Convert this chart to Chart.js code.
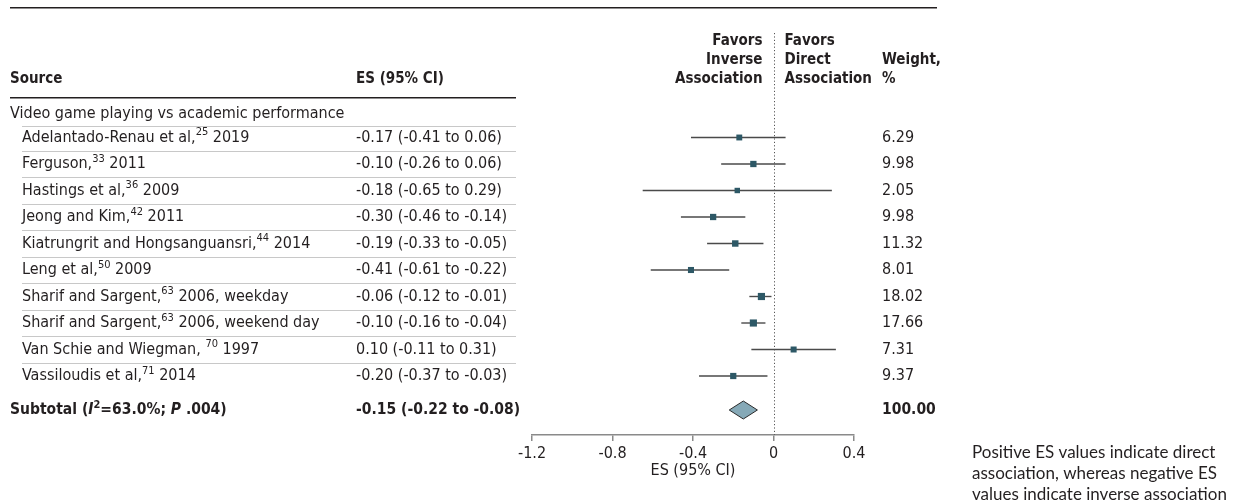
<!DOCTYPE html>
<html>
<head>
<meta charset="utf-8">
<script src="https://cdn.jsdelivr.net/npm/chart.js@4.4.1/dist/chart.umd.min.js"></script>
<style>
  html, body { margin: 0; padding: 0; background: #fff; }
  #wrap { width: 1237px; height: 501px; position: relative; }
</style>
</head>
<body>
<div id="wrap"><canvas id="forest" width="1237" height="501"></canvas></div>
<script>
// study rows
const studyNames = [
    'Adelantado-Renau et al,', 'Ferguson,', 'Hastings et al,', 'Jeong and Kim,',
    'Kiatrungrit and Hongsanguansri,', 'Leng et al,', 'Sharif and Sargent,',
    'Sharif and Sargent,', 'Van Schie and Wiegman, ', 'Vassiloudis et al,'
];
const studyRefs = ['25', '33', '36', '42', '44', '50', '63', '63', '70', '71'];
const studyTails = [' 2019', ' 2011', ' 2009', ' 2011', ' 2014', ' 2009',
    ' 2006, weekday', ' 2006, weekend day', ' 1997', ' 2014'];
const esValues = [-0.17, -0.10, -0.18, -0.30, -0.19, -0.41, -0.06, -0.10, 0.10, -0.20];
const ciLow = [-0.41, -0.26, -0.65, -0.46, -0.33, -0.61, -0.12, -0.16, -0.11, -0.37];
const ciHigh = [0.06, 0.06, 0.29, -0.14, -0.05, -0.22, -0.01, -0.04, 0.31, -0.03];
const weights = [6.29, 9.98, 2.05, 9.98, 11.32, 8.01, 18.02, 17.66, 7.31, 9.37];

// pooled estimate
const subtotalEs = -0.15;
const subtotalLow = -0.22;
const subtotalHigh = -0.08;
const subtotalWeight = 100.00;

// axis
const xTicks = [-1.2, -0.8, -0.4, 0, 0.4];
const xTickLabels = ['-1.2', '-0.8', '-0.4', '0', '0.4'];

const FONT = '"Liberation Sans Narrow", "DejaVu Sans Condensed", sans-serif';
const NOTE_FONT = 'Lato, "Noto Sans", sans-serif';
const TEXT = '#231f20';
const SIZE = 16;
const BOLD_SIZE = 15;
const SUBTOTAL_ROW = 10.283;
const GROUP_ROW = -0.887;

const fmt = v => v.toFixed(2);

// draw a run of text pieces, some superscript / italic
const drawRich = (ctx, parts, x, y, size, bold) => {
    let cx = x;
    parts.forEach(p => {
        const fs = p.sup ? Math.round(size * 0.7) : size;
        ctx.font = `${p.italic ? 'italic ' : ''}${bold ? 'bold ' : ''}${fs}px ${FONT}`;
        ctx.fillText(p.t, cx, p.sup ? y - size * 0.33 : y);
        cx += ctx.measureText(p.t).width;
    });
};

const forestPlugin = {
    id: 'forestTable',
    beforeDatasetsDraw(chart) {
        const { ctx, scales: { x, y }, chartArea } = chart;
        ctx.save();
        // line of no effect
        const zx = Math.round(x.getPixelForValue(0)) + 0.5;
        ctx.strokeStyle = '#555';
        ctx.lineWidth = 1;
        ctx.setLineDash([1.2, 2.2]);
        ctx.beginPath();
        ctx.moveTo(zx, chartArea.top);
        ctx.lineTo(zx, chartArea.bottom);
        ctx.stroke();
        ctx.setLineDash([]);

        // confidence intervals
        ctx.strokeStyle = '#4a4a4a';
        ctx.lineWidth = 1.4;
        esValues.forEach((v, i) => {
            const py = y.getPixelForValue(i);
            ctx.beginPath();
            ctx.moveTo(x.getPixelForValue(ciLow[i]), py);
            ctx.lineTo(x.getPixelForValue(ciHigh[i]), py);
            ctx.stroke();
        });

        // pooled diamond
        const dy = y.getPixelForValue(SUBTOTAL_ROW);
        ctx.beginPath();
        ctx.moveTo(x.getPixelForValue(subtotalLow), dy);
        ctx.lineTo(x.getPixelForValue(subtotalEs), dy - 9);
        ctx.lineTo(x.getPixelForValue(subtotalHigh), dy);
        ctx.lineTo(x.getPixelForValue(subtotalEs), dy + 9);
        ctx.closePath();
        ctx.fillStyle = '#86a9b7';
        ctx.fill();
        ctx.strokeStyle = '#2b2b2b';
        ctx.lineWidth = 1;
        ctx.stroke();
        ctx.restore();
    },
    afterDraw(chart) {
        const { ctx, scales: { x, y } } = chart;
        const zeroX = x.getPixelForValue(0);
        ctx.save();
        ctx.textBaseline = 'middle';

        // top rule
        ctx.fillStyle = TEXT;
        ctx.fillRect(10, 7, 927, 1.5);

        // column headers
        ctx.font = `bold ${BOLD_SIZE}px ${FONT}`;
        ctx.textAlign = 'right';
        ['Favors', 'Inverse', 'Association'].forEach((t, k) => ctx.fillText(t, zeroX - 11, 41 + k * 19));
        ctx.textAlign = 'left';
        ['Favors', 'Direct', 'Association'].forEach((t, k) => ctx.fillText(t, zeroX + 11, 41 + k * 19));
        ctx.fillText('Weight,', 882, 60);
        ctx.fillText('%', 882, 79);
        ctx.fillText('Source', 10, 79);
        ctx.fillText('ES (95% CI)', 356, 79);
        ctx.fillRect(10, 97, 506, 1.5);

        // group label
        ctx.font = `${SIZE}px ${FONT}`;
        ctx.fillText('Video game playing vs academic performance', 10, y.getPixelForValue(GROUP_ROW));

        // row separators
        ctx.fillStyle = '#c8c8c8';
        for (let i = 0; i < studyNames.length; i++) {
            const prev = i === 0 ? GROUP_ROW : i - 1;
            const sy = Math.round((y.getPixelForValue(i) + y.getPixelForValue(prev)) / 2);
            ctx.fillRect(22, sy, 494, 1);
        }

        // study rows
        ctx.fillStyle = TEXT;
        studyNames.forEach((name, i) => {
            const py = y.getPixelForValue(i);
            drawRich(ctx, [{ t: name }, { t: studyRefs[i], sup: true }, { t: studyTails[i] }], 22, py, SIZE, false);
            ctx.font = `${SIZE}px ${FONT}`;
            ctx.fillText(`${fmt(esValues[i])} (${fmt(ciLow[i])} to ${fmt(ciHigh[i])})`, 356, py);
            ctx.fillText(fmt(weights[i]), 882, py);
        });

        // subtotal row
        const sy = y.getPixelForValue(SUBTOTAL_ROW);
        drawRich(ctx, [
            { t: 'Subtotal (' }, { t: 'I', italic: true }, { t: '2', sup: true },
            { t: '=63.0%; ' }, { t: 'P', italic: true }, { t: ' .004)' }
        ], 10, sy, 15.5, true);
        ctx.font = `bold 15.5px ${FONT}`;
        ctx.fillText(`${fmt(subtotalEs)} (${fmt(subtotalLow)} to ${fmt(subtotalHigh)})`, 356, sy);
        ctx.fillText(subtotalWeight.toFixed(2), 882, sy);

        // note
        ctx.font = `17px ${NOTE_FONT}`;
        ['Positive ES values indicate direct', 'association, whereas negative ES', 'values indicate inverse association']
            .forEach((t, k) => ctx.fillText(t, 972, 453 + k * 21));
        ctx.restore();
    }
};

new Chart(document.getElementById('forest'), {
    type: 'scatter',
    data: {
        datasets: [{
            data: esValues.map((v, i) => ({ x: v, y: i })),
            pointStyle: 'rect',
            pointRadius: weights.map(w => (5.2 + w * 0.11) / 1.414),
            pointBackgroundColor: '#2d5866',
            pointBorderColor: '#2d5866',
            pointBorderWidth: 0
        }]
    },
    options: {
        responsive: false,
        animation: false,
        events: [],
        layout: { padding: { left: 532, right: 383, top: 33, bottom: 21 } },
        plugins: { legend: { display: false }, tooltip: { enabled: false } },
        scales: {
            x: {
                type: 'linear',
                min: -1.2,
                max: 0.4,
                afterBuildTicks: scale => { scale.ticks = xTicks.map(v => ({ value: v })); },
                afterFit: scale => { scale.height = 45; },
                ticks: {
                    color: TEXT,
                    padding: 3,
                    font: { family: FONT, size: SIZE },
                    callback: (v, idx) => xTickLabels[idx]
                },
                grid: { drawOnChartArea: false, drawTicks: true, tickLength: 6, color: '#8a8a8a', lineWidth: 1.5 },
                border: { color: '#8a8a8a', width: 1.5 },
                title: {
                    display: true,
                    text: 'ES (95% CI)',
                    color: TEXT,
                    font: { family: FONT, size: SIZE },
                    padding: { top: 2, bottom: 0 }
                }
            },
            y: {
                type: 'linear',
                display: false,
                reverse: true,
                min: -3.943,
                max: 11.226
            }
        }
    },
    plugins: [forestPlugin]
});
</script>
</body>
</html>
